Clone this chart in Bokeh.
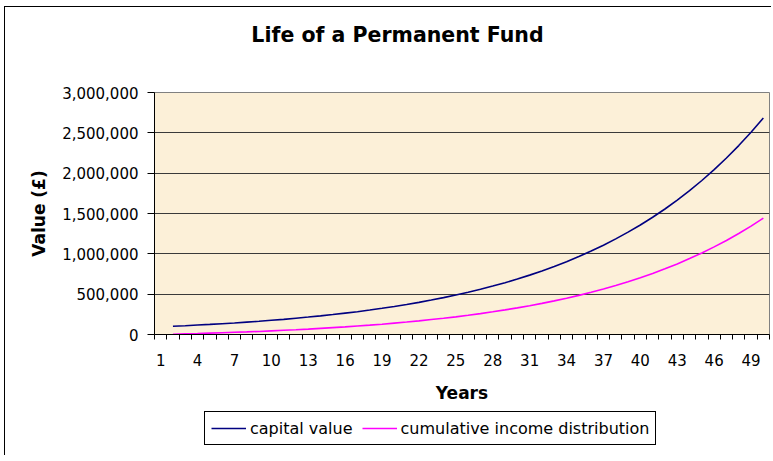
from bokeh.plotting import figure
from bokeh.layouts import column
from bokeh.models import (FixedTicker, NumeralTickFormatter, Legend, LegendItem,
                          ColumnDataSource, Label)
from bokeh.embed import file_html
from bokeh.resources import INLINE

# ---- data ----
years = list(range(2, 51))
capital_value = [
    102000, 109000, 117000, 125000, 134000, 143000, 154000, 164000, 176000, 188000,
    202000, 216000, 231000, 247000, 265000, 283000, 303000, 325000, 348000, 372000,
    398000, 427000, 457000, 489000, 523000, 560000, 600000, 642000, 687000, 736000,
    787000, 843000, 902000, 966000, 1034000, 1107000, 1185000, 1269000, 1358000, 1454000,
    1556000, 1666000, 1783000, 1909000, 2044000, 2188000, 2342000, 2507000, 2684000,
]
cumulative_income = [
    4000, 8000, 12000, 17000, 22000, 27000, 32000, 38000, 45000, 52000,
    59000, 67000, 76000, 85000, 94000, 105000, 116000, 128000, 141000, 154000,
    169000, 185000, 201000, 219000, 238000, 259000, 281000, 305000, 330000, 357000,
    386000, 417000, 450000, 485000, 523000, 564000, 607000, 654000, 704000, 757000,
    814000, 875000, 941000, 1011000, 1086000, 1166000, 1252000, 1344000, 1443000,
]
x_tick_years = [1, 4, 7, 10, 13, 16, 19, 22, 25, 28, 31, 34, 37, 40, 43, 46, 49]
y_ticks = [0, 500000, 1000000, 1500000, 2000000, 2500000, 3000000]
first_year, last_year = 1, 50
title_text = "Life of a Permanent Fund"
series_names = ["capital value", "cumulative income distribution"]
series_colors = ["#000080", "#FF00FF"]

FONT = "DejaVu Sans"
OX, OY = 5, 7          # chart-area border offset (margin + 1px border)
W = 771 - OX
LEFT = 154 - OX        # left border shared by the stacked figures (frames are aligned)

# ---- header (title) ----
head = figure(width=W, height=60 - OY, output_backend="svg", toolbar_location=None,
              x_axis_type=None, y_axis_type=None, min_border=0,
              min_border_left=LEFT, min_border_right=2, min_border_top=0, min_border_bottom=0,
              outline_line_color=None, background_fill_color="white",
              border_fill_color="white")
head.grid.visible = False
head.add_layout(Label(x=397 - 154, y=26, x_units="screen", y_units="screen",
                      text=title_text, text_font=FONT, text_font_style="bold",
                      text_font_size="20.5px", text_color="black",
                      text_align="center", text_baseline="alphabetic"))

# ---- main chart ----
src = ColumnDataSource(dict(year=years, capital=capital_value, income=cumulative_income))

p = figure(width=W, height=350,
           x_range=(first_year - 0.5, last_year + 0.5),
           y_range=(y_ticks[0], y_ticks[-1]),
           output_backend="svg", toolbar_location=None,
           min_border_left=LEFT, min_border_right=2,
           min_border_top=32, min_border_bottom=76,
           background_fill_color="#FCF0D8", border_fill_color="white",
           outline_line_color="#808080", outline_line_width=1)

# x axis (category-like: ticks at boundaries, labels every 3rd year)
boundaries = [k - 0.5 for k in range(first_year, last_year + 2)]
p.xaxis.ticker = FixedTicker(ticks=x_tick_years, minor_ticks=boundaries)
p.xaxis.major_tick_line_color = None
p.xaxis.major_tick_out = 5
p.xaxis.major_tick_in = 0
p.xaxis.minor_tick_line_color = "black"
p.xaxis.minor_tick_out = 5
p.xaxis.minor_tick_in = 0
p.xaxis.axis_line_color = "black"
p.xaxis.major_label_text_font = FONT
p.xaxis.major_label_text_font_size = "15px"
p.xaxis.major_label_text_color = "black"
p.xaxis.major_label_standoff = 14
p.xaxis.axis_label = "Years"
p.xaxis.axis_label_text_font = FONT
p.xaxis.axis_label_text_font_style = "bold"
p.xaxis.axis_label_text_font_size = "17px"
p.xaxis.axis_label_text_color = "black"
p.xaxis.axis_label_standoff = 14

# y axis
p.yaxis.ticker = FixedTicker(ticks=y_ticks, minor_ticks=[])
p.yaxis.formatter = NumeralTickFormatter(format="0,0")
p.yaxis.major_tick_line_color = "black"
p.yaxis.major_tick_out = 7
p.yaxis.major_tick_in = 0
p.yaxis.minor_tick_line_color = None
p.yaxis.axis_line_color = "black"
p.yaxis.major_label_text_font = FONT
p.yaxis.major_label_text_font_size = "15px"
p.yaxis.major_label_text_color = "black"
p.yaxis.major_label_standoff = 9
p.yaxis.axis_label = "Value (£)"
p.yaxis.axis_label_text_font = FONT
p.yaxis.axis_label_text_font_style = "bold"
p.yaxis.axis_label_text_font_size = "17px"
p.yaxis.axis_label_text_color = "black"
p.yaxis.axis_label_standoff = 10

p.xgrid.visible = False
p.ygrid.grid_line_color = "#3a3a3a"
p.ygrid.grid_line_width = 1

p.line("year", "capital", source=src, line_color=series_colors[0], line_width=1.6)
p.line("year", "income", source=src, line_color=series_colors[1], line_width=1.6)

# ---- legend strip below the chart ----
leg = figure(width=W, height=45, output_backend="svg", toolbar_location=None,
             x_axis_type=None, y_axis_type=None, min_border=0,
             min_border_left=LEFT, min_border_right=2, min_border_top=0, min_border_bottom=0,
             outline_line_color=None, background_fill_color="white",
             border_fill_color="white")
leg.grid.visible = False
# legend keys: single-point lines (draw nothing themselves, only the legend key)
k1 = leg.line(x=years[:1], y=capital_value[:1], line_color=series_colors[0], line_width=1.6)
k2 = leg.line(x=years[:1], y=cumulative_income[:1], line_color=series_colors[1], line_width=1.6)
legend = Legend(items=[LegendItem(label=series_names[0], renderers=[k1]),
                       LegendItem(label=series_names[1], renderers=[k2])],
                location=(204 - 154, 10), orientation="horizontal",
                border_line_color="black", border_line_width=1, border_line_alpha=1,
                background_fill_color="white", background_fill_alpha=1,
                label_text_font=FONT, label_text_font_size="16px",
                label_text_color="black",
                glyph_width=35, glyph_height=20, label_standoff=4,
                spacing=9, padding=6, margin=0)
leg.add_layout(legend)

layout = column(head, p, leg, spacing=0,
                styles={"margin-left": "4px", "margin-top": "6px",
                        "border-left": "1px solid black",
                        "border-top": "1px solid black"})
open("out.html", "w").write(file_html(layout, INLINE))
